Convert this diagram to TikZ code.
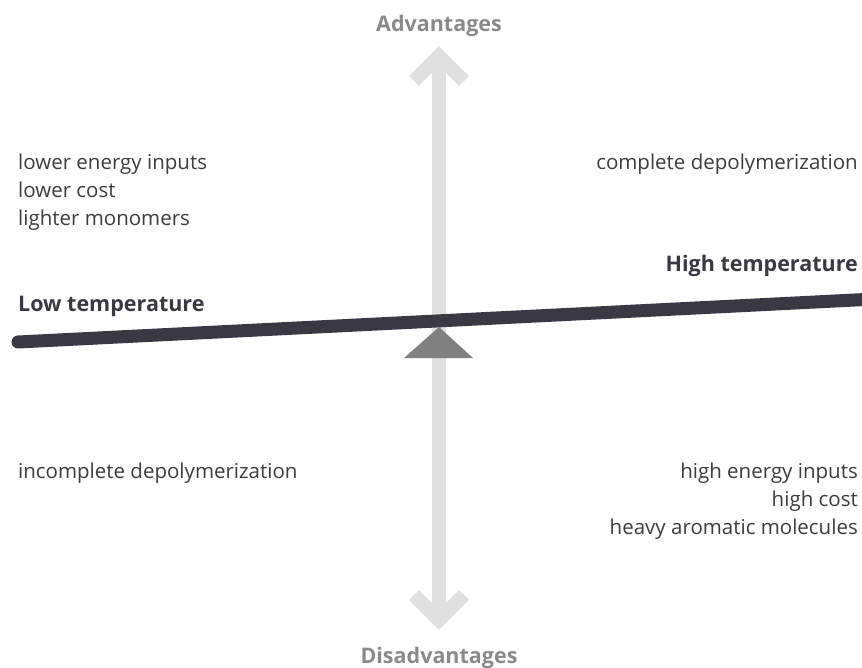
\documentclass[tikz,border=0pt]{standalone}
\usepackage{fontspec}
\setmainfont{Open Sans}
\definecolor{beamc}{HTML}{393843}
\definecolor{txtc}{HTML}{3C3C3C}
\definecolor{axisc}{HTML}{E0E0E0}
\definecolor{headc}{HTML}{8A8A8A}
\definecolor{pivotc}{HTML}{808080}
\begin{document}
\begin{tikzpicture}[x=1pt,y=-1pt,
  item/.style={inner sep=0pt,text=txtc,font=\fontsize{20.5}{24}\selectfont},
  side/.style={inner sep=0pt,text=beamc,font=\fontsize{21.5}{26}\selectfont\bfseries},
  head/.style={inner sep=0pt,text=headc,font=\fontsize{21.5}{26}\selectfont\bfseries},
  axis/.style={draw=axisc,line width=14pt},
]
\useasboundingbox (0,0) rectangle (862,668);
% vertical axis
\coordinate (top) at (439,56);
\coordinate (bot) at (439,620);
\draw[axis] (top) -- (bot);
\draw[axis,miter limit=10] (414,81) -- (top) -- (464,81);
\draw[axis,miter limit=10] (414,595) -- (bot) -- (464,595);
% beam
\coordinate (bl) at (18,342);
\coordinate (br) at (875,299);
\draw[draw=beamc,line width=13pt,line cap=round] (bl) -- (br);
% pivot
\coordinate (pa) at (439,327);
\coordinate (pl) at (404,358);
\coordinate (pr) at (473,358);
\fill[pivotc] (pa) -- (pr) -- (pl) -- cycle;
% labels
\node[head,anchor=base] (adv) at (439,32) {Advantages};
\node[head,anchor=base] (dis) at (439,663) {Disadvantages};
\node[side,anchor=base west] (low) at (18,312) {Low temperature};
\node[side,anchor=base east] (high) at (858,272) {High temperature};
\node[item,anchor=base west] (l1) at (18,170) {lower energy inputs};
\node[item,anchor=base west] (l2) at (18,198) {lower cost};
\node[item,anchor=base west] (l3) at (18,226) {lighter monomers};
\node[item,anchor=base east] (r1) at (858,170) {complete depolymerization};
\node[item,anchor=base west] (l4) at (18,478) {incomplete depolymerization};
\node[item,anchor=base east] (r2) at (858,478) {high energy inputs};
\node[item,anchor=base east] (r3) at (858,506) {high cost};
\node[item,anchor=base east] (r4) at (858,534) {heavy aromatic molecules};
\end{tikzpicture}
\end{document}
